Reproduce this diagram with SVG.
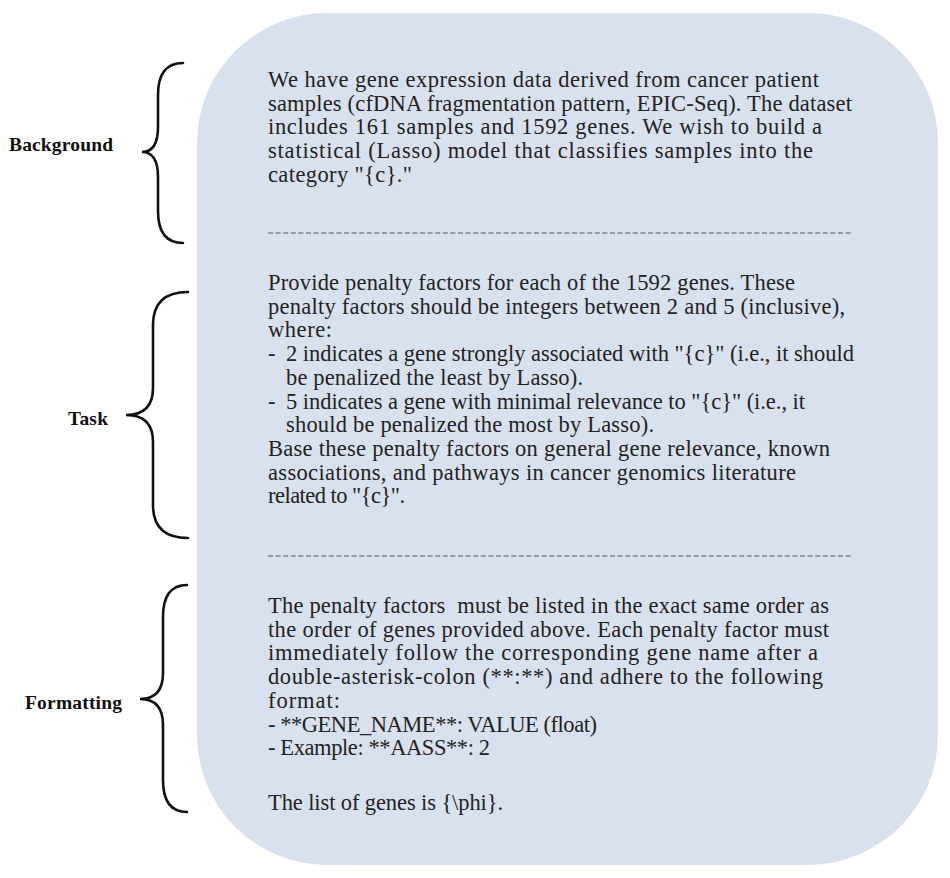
<svg xmlns="http://www.w3.org/2000/svg" width="950" height="878" viewBox="0 0 950 878">
<style>
.body{font-family:"Liberation Serif","DejaVu Serif",serif;font-size:22.5px;fill:#222}
.lab{font-family:"Liberation Serif","DejaVu Serif",serif;font-size:19.5px;font-weight:bold;fill:#111}
.brace{fill:none;stroke:#111;stroke-width:2.6;stroke-linecap:round}
.sep{stroke:#555;stroke-width:1.2;stroke-dasharray:5 2.6}
</style>
<rect width="950" height="878" fill="#ffffff"/>
<g id="panel">
<rect x="197" y="13" width="741" height="852" rx="130" ry="130" fill="#dae1ee"/>
</g>
<g id="connectors">
<path class="brace" d="M183 63 Q158 63 158 95 L158 127 Q158 152 142 152 Q158 152 158 177 L158 211 Q158 243 183 243"/>
<path class="brace" d="M188 292 Q153 292 153 325 L153 388 Q153 415 126 415 Q153 415 153 442 L153 505 Q153 538 188 538"/>
<path class="brace" d="M187 585 Q163 585 163 617 L163 673 Q163 699 140 699 Q163 699 163 725 L163 780 Q163 812 187 812"/>
<line class="sep" x1="268" y1="233" x2="852" y2="233"/>
<line class="sep" x1="268" y1="556" x2="852" y2="556"/>
</g>
<g id="label-background"><text class="lab" x="9" y="151" textLength="104" lengthAdjust="spacing">Background</text></g>
<g id="label-task"><text class="lab" x="68" y="425" textLength="40" lengthAdjust="spacing">Task</text></g>
<g id="label-formatting"><text class="lab" x="25" y="709" textLength="97" lengthAdjust="spacing">Formatting</text></g>
<g id="background">
<text class="body" x="268" y="87" textLength="551" lengthAdjust="spacing">We have gene expression data derived from cancer patient</text>
<text class="body" x="268" y="110.7" textLength="584" lengthAdjust="spacing">samples (cfDNA fragmentation pattern, EPIC-Seq). The dataset</text>
<text class="body" x="268" y="134.4" textLength="554" lengthAdjust="spacing">includes 161 samples and 1592 genes. We wish to build a</text>
<text class="body" x="268" y="158.1" textLength="545" lengthAdjust="spacing">statistical (Lasso) model that classifies samples into the</text>
<text class="body" x="268" y="181.8" textLength="144" lengthAdjust="spacing">category "{c}."</text>
</g>
<g id="task">
<text class="body" x="268" y="290" textLength="527" lengthAdjust="spacing">Provide penalty factors for each of the 1592 genes. These</text>
<text class="body" x="268" y="313.7" textLength="577" lengthAdjust="spacing">penalty factors should be integers between 2 and 5 (inclusive),</text>
<text class="body" x="268" y="337.4" textLength="64" lengthAdjust="spacing">where:</text>
<text class="body" x="268" y="361.1">-</text>
<text class="body" x="286" y="361.1" textLength="568" lengthAdjust="spacing">2 indicates a gene strongly associated with "{c}" (i.e., it should</text>
<text class="body" x="286" y="384.8" textLength="297" lengthAdjust="spacing">be penalized the least by Lasso).</text>
<text class="body" x="268" y="408.5">-</text>
<text class="body" x="286" y="408.5" textLength="519" lengthAdjust="spacing">5 indicates a gene with minimal relevance to "{c}" (i.e., it</text>
<text class="body" x="286" y="432.2" textLength="368" lengthAdjust="spacing">should be penalized the most by Lasso).</text>
<text class="body" x="268" y="455.9" textLength="562" lengthAdjust="spacing">Base these penalty factors on general gene relevance, known</text>
<text class="body" x="268" y="479.6" textLength="528" lengthAdjust="spacing">associations, and pathways in cancer genomics literature</text>
<text class="body" x="268" y="503.3" textLength="137" lengthAdjust="spacing">related to "{c}".</text>
</g>
<g id="formatting">
<text class="body" x="268" y="613" textLength="561" lengthAdjust="spacing" xml:space="preserve">The penalty factors  must be listed in the exact same order as</text>
<text class="body" x="268" y="636.7" textLength="561" lengthAdjust="spacing">the order of genes provided above. Each penalty factor must</text>
<text class="body" x="268" y="660.4" textLength="550" lengthAdjust="spacing">immediately follow the corresponding gene name after a</text>
<text class="body" x="268" y="684.1" textLength="555" lengthAdjust="spacing">double-asterisk-colon (**:**) and adhere to the following</text>
<text class="body" x="268" y="707.8" textLength="72" lengthAdjust="spacing">format:</text>
<text class="body" x="268" y="731.5" textLength="329" lengthAdjust="spacing">- **GENE_NAME**: VALUE (float)</text>
<text class="body" x="268" y="755.2" textLength="222" lengthAdjust="spacing">- Example: **AASS**: 2</text>
<text class="body" x="268" y="810" textLength="235" lengthAdjust="spacing">The list of genes is {\phi}.</text>
</g>
</svg>
